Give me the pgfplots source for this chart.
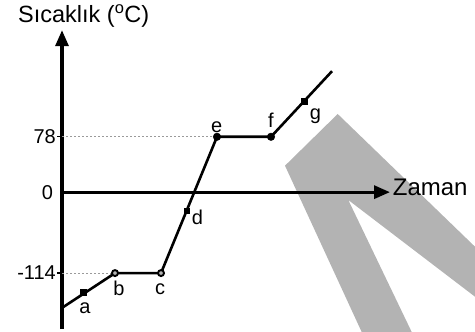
\documentclass[border=0pt]{standalone}
\usepackage{fontspec}
\setmainfont{Liberation Sans}
\usepackage{pgfplots}
\pgfplotsset{compat=1.18}
\usetikzlibrary{arrows.meta}
\definecolor{wm}{HTML}{B3B3B3}
\definecolor{dashgray}{HTML}{9A9A9A}

\begin{document}
\begin{tikzpicture}[x=1pt,y=1pt]
\useasboundingbox (0,0) rectangle (475,332);
% watermark behind the chart
\fill[wm] (285,166.3) -- (337.7,218) -- (475,85.3) -- (475,35.3) -- (348.3,132)
  -- (411.7,0) -- (361.7,0) -- cycle;
\begin{axis}[
    at={(62,4)}, anchor=south west,
    scale only axis, width=328pt, height=299pt,
    xmin=0, xmax=32.8, ymin=-193, ymax=228.2,
    axis lines=middle,
    clip=false,
    axis line style={line width=3.2pt},
    x axis line style={-{Triangle[length=16pt,width=13pt]}},
    y axis line style={-{Triangle[length=16pt,width=13pt]}},
    xtick=\empty,
    ytick={-114,78}, yticklabels={-114,78},
    tick align=outside, major tick length=5pt,
    tick style={line width=1.2pt,black},
    yticklabel style={font=\fontsize{20}{24}\selectfont,inner sep=1pt},
]
% guide lines
\addplot[dashgray,line width=1pt,dash pattern=on 2pt off 2pt,forget plot]
    coordinates {(0,78) (15.5,78)};
\addplot[dashgray,line width=1pt,dash pattern=on 2pt off 2pt,forget plot]
    coordinates {(0,-114) (5.3,-114)};
% heating curve
\addplot[black,line width=2.6pt,line join=round]
    coordinates {(0,-163) (5.3,-114) (9.9,-114) (15.5,78) (20.9,78) (27.0,170.4)};
% melting points (b, c)
\addplot[only marks,mark=*,mark size=3pt,
    mark options={fill=gray!60,draw=black,line width=1.9pt}]
    coordinates {(5.3,-114) (9.9,-114)};
% boiling points (e, f)
\addplot[only marks,mark=*,mark size=3.8pt,mark options={fill=black,draw=black}]
    coordinates {(15.5,78) (20.9,78)};
% intermediate points
\addplot[only marks,mark=square*,mark size=2.7pt,mark options={fill=black,draw=black}]
    coordinates {(2.13,-140.8) (12.45,-26) (24.2,128.2)};
\begin{scope}[every node/.style={anchor=base,inner sep=0pt,font=\fontsize{20}{24}\selectfont}]
\node at (axis cs:2.3,-170.4) {a};
\node at (axis cs:5.7,-145) {b};
\node at (axis cs:9.8,-144.4) {c};
\node at (axis cs:13.55,-45) {d};
\node at (axis cs:15.47,84.5) {e};
\node at (axis cs:20.9,91.5) {f};
\node at (axis cs:25.35,102.8) {g};
\node[anchor=base east] at (axis cs:-0.87,-10.2) {0};
\end{scope}
\end{axis}
\node[anchor=base west,inner sep=0pt,font=\fontsize{24}{28}\selectfont] at (392.7,136) {Zaman};
\node[anchor=base west,inner sep=0pt,font=\fontsize{23.5}{28}\selectfont] at (18,309.3) {Sıcaklık (\textsuperscript{o}C)};
\end{tikzpicture}
\end{document}
